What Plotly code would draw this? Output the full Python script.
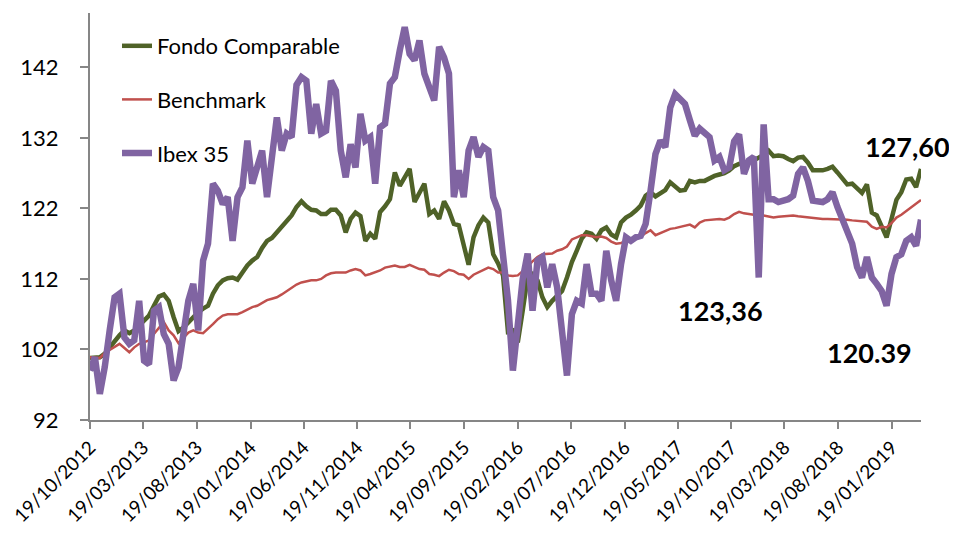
import pandas as pd
import plotly.graph_objects as go

# Fortnightly observation dates
dates = pd.date_range("2012-10-19", periods=170, freq="14D")

series_names = ["Fondo Comparable", "Benchmark", "Ibex 35"]

fondo = [
    100.8, 100.9, 100.9, 101.4, 102.3, 103.3, 104.0, 104.7, 104.3, 104.7,
    105.4, 105.9, 106.8, 108.2, 109.5, 109.8, 108.9, 106.6, 104.6, 105.1,
    105.9, 106.6, 107.3, 107.8, 108.2, 109.9, 111.1, 111.8, 112.1, 112.2,
    111.9, 112.9, 113.9, 114.6, 115.1, 116.4, 117.4, 117.8, 118.6, 119.3,
    120.2, 121.0, 122.2, 123.0, 122.3, 121.8, 121.7, 121.2, 121.2, 121.8,
    121.8, 121.0, 118.6, 120.5, 121.4, 120.9, 117.4, 118.4, 117.7, 121.5,
    122.3, 123.3, 127.1, 125.2, 126.4, 127.6, 122.9, 124.1, 125.5, 121.2,
    121.7, 120.5, 123.0, 121.7, 119.8, 119.6, 117.0, 114.0, 117.9, 119.6,
    120.7, 120.0, 115.5, 114.2, 112.5, 104.5, 104.7, 103.0, 107.5, 112.2,
    112.7, 111.8, 109.4, 108.0, 108.9, 109.6, 110.3, 112.2, 114.4, 116.0,
    117.7, 118.6, 118.4, 117.7, 118.9, 119.3, 118.3, 117.9, 120.0, 120.7,
    121.1, 121.7, 122.4, 123.8, 124.3, 123.7, 124.2, 124.6, 125.7, 125.0,
    124.5, 124.6, 125.9, 125.7, 125.9, 125.9, 126.3, 126.6, 126.8, 127.0,
    127.4, 128.0, 128.3, 128.5, 128.6, 128.8, 129.2, 129.6, 130.2, 129.4,
    129.5, 129.4, 129.0, 128.7, 129.2, 129.3, 128.5, 127.4, 127.4, 127.4,
    127.6, 127.9, 127.1, 126.2, 125.4, 125.5, 124.8, 124.2, 125.4, 121.4,
    121.0, 119.6, 117.9, 120.5, 123.2, 124.3, 126.1, 126.2, 125.0, 127.6,
]

benchmark = [
    100.9, 100.9, 100.8, 101.5, 101.9, 102.4, 102.8, 102.2, 101.6, 102.3,
    102.8, 103.0, 103.3, 104.2, 105.1, 105.9, 104.7, 104.0, 102.9, 103.7,
    104.4, 104.7, 104.4, 104.3, 104.9, 105.6, 106.3, 106.8, 107.0, 107.0,
    107.0, 107.3, 107.7, 108.0, 108.2, 108.6, 109.0, 109.2, 109.4, 109.8,
    110.3, 110.7, 111.2, 111.5, 111.7, 111.8, 111.8, 112.0, 112.5, 112.8,
    112.9, 112.9, 112.9, 113.2, 113.4, 113.2, 112.5, 112.7, 112.9, 113.2,
    113.6, 113.8, 113.9, 113.7, 113.7, 114.0, 113.7, 113.4, 113.3, 112.7,
    112.6, 112.4, 112.9, 113.3, 113.1, 112.7, 112.6, 112.0, 112.6, 112.9,
    113.3, 113.6, 113.4, 112.9, 112.9, 112.5, 112.4, 112.5, 113.1, 113.7,
    114.5, 115.1, 115.5, 115.5, 115.6, 116.0, 116.2, 116.6, 117.6, 117.9,
    118.2, 118.2, 118.1, 117.9, 118.0, 117.8, 117.3, 117.0, 117.1, 117.4,
    117.6, 117.7, 118.0, 118.5, 118.9, 118.2, 118.5, 118.9, 119.1, 119.2,
    119.4, 119.6, 119.7, 119.3, 120.0, 120.3, 120.4, 120.5, 120.5, 120.4,
    120.7, 121.2, 121.5, 121.3, 121.2, 121.0, 121.0, 121.0, 120.8, 120.7,
    120.8, 120.9, 120.9, 121.0, 120.9, 120.8, 120.7, 120.6, 120.5, 120.5,
    120.5, 120.5, 120.5, 120.5, 120.4, 120.3, 120.2, 120.2, 120.1, 119.4,
    119.1, 119.4, 119.3, 119.9, 120.7, 121.1, 121.6, 122.1, 122.7, 123.2,
]

ibex = [
    99.0, 100.9, 95.7, 99.5, 104.7, 109.4, 109.9, 103.7, 102.8, 103.3,
    108.9, 100.4, 99.9, 107.5, 108.0, 104.2, 102.8, 97.6, 99.5, 105.1,
    108.9, 111.3, 104.7, 114.6, 117.0, 125.5, 124.5, 122.6, 123.6, 117.4,
    123.6, 125.0, 131.6, 125.5, 127.8, 130.2, 123.6, 130.2, 134.9, 130.2,
    132.6, 132.1, 139.5, 140.6, 140.1, 132.6, 136.8, 132.6, 133.0, 140.1,
    138.7, 130.2, 126.4, 131.1, 127.8, 135.4, 131.6, 132.1, 125.5, 133.5,
    134.0, 139.7, 140.6, 144.4, 147.7, 143.9, 143.0, 145.8, 141.1, 139.2,
    137.3, 144.9, 143.4, 141.1, 123.6, 127.4, 123.6, 130.2, 132.1, 129.3,
    130.7, 130.2, 123.6, 121.7, 115.0, 109.0, 99.0, 105.1, 112.0, 115.6,
    107.5, 114.6, 115.1, 110.8, 114.1, 110.8, 104.0, 98.3, 107.0, 108.9,
    108.5, 114.1, 109.9, 109.9, 108.9, 116.0, 111.8, 108.9, 114.1, 117.9,
    117.4, 117.9, 118.1, 119.8, 124.5, 129.7, 131.6, 130.7, 136.3, 138.2,
    137.5, 136.8, 134.5, 132.3, 133.3, 132.8, 132.1, 128.8, 129.3, 127.4,
    127.8, 131.5, 132.5, 126.9, 128.8, 129.3, 112.2, 133.9, 123.3, 123.3,
    122.9, 123.1, 123.3, 123.8, 126.9, 127.8, 125.9, 123.1, 122.9, 122.9,
    123.3, 124.3, 122.2, 120.3, 118.6, 117.0, 113.7, 112.2, 115.1, 112.2,
    111.3, 110.3, 108.2, 112.7, 115.1, 115.5, 117.4, 117.9, 116.7, 120.4,
]

label_texts = ["127,60", "123,36", "120.39"]

fig = go.Figure()
fig.add_trace(go.Scatter(x=dates, y=fondo, name=series_names[0], mode="lines",
                         line=dict(color="#4F6228", width=4.5), legendgroup="g1"))
fig.add_trace(go.Scatter(x=dates, y=benchmark, name=series_names[1], mode="lines",
                         line=dict(color="#C0504D", width=2.5), legendgroup="g2"))
fig.add_trace(go.Scatter(x=dates, y=ibex, name=series_names[2], mode="lines",
                         line=dict(color="#8064A2", width=6.5), legendgroup="g3"))

ann_pos = [(0.984, 0.671), (0.759, 0.268), (0.9386, 0.166)]
for txt, (xp, yp) in zip(label_texts, ann_pos):
    fig.add_annotation(text=txt, x=xp, y=yp, xref="paper", yref="paper",
                       xanchor="center", yanchor="middle", showarrow=False,
                       font=dict(family="Lato", size=27, color="black", weight="bold"))

# the page body adds an 8px offset, so the figure is 8px smaller
fig.update_layout(
    width=949, height=525,
    margin=dict(l=82, r=36, t=5, b=113),
    paper_bgcolor="white", plot_bgcolor="white",
    font=dict(family="Lato", size=22, color="black"),
    showlegend=True,
    legend=dict(x=0.0325, y=0.9705, xanchor="left", yanchor="top",
                bgcolor="rgba(0,0,0,0)", font=dict(size=22),
                tracegroupgap=22, traceorder="grouped"),
    xaxis2=dict(
        overlaying="x", anchor="y", side="bottom", type="date",
        range=[dates[0], dates[-1]], tick0="2012-10-19", dtick="M5",
        ticks="inside", ticklen=7, tickcolor="#868686", tickwidth=2,
        showticklabels=False, showline=False, showgrid=False, zeroline=False,
        automargin=False,
    ),
)
fig.layout.xaxis.update(
    type="date", range=[dates[0], dates[-1]],
    tick0="2012-10-19", dtick="M5", tickformat="%d/%m/%Y", tickangle=-45,
    tickfont=dict(size=19), ticklabelstandoff=0,
    ticklabeloverflow="allow",
    showline=True, linecolor="#868686", linewidth=2,
    ticks="outside", ticklen=7, tickcolor="#868686", tickwidth=2,
    showgrid=False, zeroline=False, automargin=False,
)
fig.update_yaxes(
    range=[92, 149.7], tick0=92, dtick=10,
    showline=True, linecolor="#868686", linewidth=2,
    ticks="outside", ticklen=8, tickcolor="#868686", tickwidth=2,
    ticklabelstandoff=17,
    showgrid=False, zeroline=False, automargin=False,
)

fig.write_html("out.html")
